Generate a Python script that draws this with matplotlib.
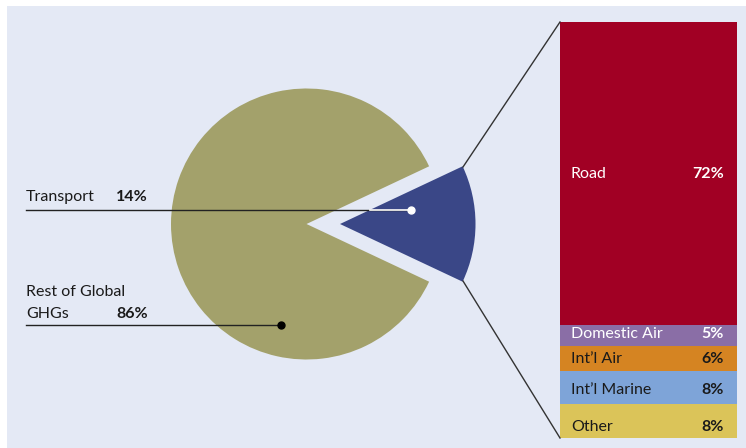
import matplotlib
matplotlib.use("Agg")
import matplotlib.pyplot as plt
from matplotlib.patches import Rectangle

# ---- data ----
pie_labels = ["Transport", "Rest of Global GHGs"]
pie_values = [14, 86]
pie_colors = ["#3a4787", "#a3a16b"]

bar_labels = ["Road", "Domestic Air", "Int\u2019l Air", "Int\u2019l Marine", "Other"]
bar_values = [72, 5, 6, 8, 8]
bar_colors = ["#a10024", "#8a6ea6", "#d58422", "#7ea4d8", "#dbc459"]
bar_text_colors = ["white", "white", "#1a1a1a", "#1a1a1a", "#1a1a1a"]

plt.rcParams['font.family'] = ['Lato', 'DejaVu Sans']

W, H = 746, 448
fig = plt.figure(figsize=(W / 100, H / 100), dpi=100)
ax = fig.add_axes([0, 0, 1, 1])

# background panel
ax.add_patch(Rectangle((7, 6), W - 7, H - 6, facecolor="#e4e9f5", edgecolor="none", zorder=0))

# ---- pie ----
R = 135.5
cx, cy = 306.5, 224
half = pie_values[0] / sum(pie_values) * 360 / 2
wedges, _ = ax.pie(pie_values, colors=pie_colors, startangle=-half, radius=R,
                   center=(cx, cy), explode=[340 - cx, 0.0],
                   wedgeprops=dict(linewidth=0), frame=True)
for w in wedges:
    w.set_zorder(2)

# ---- stacked bar ----
bx0, bx1 = 560, 737
by_top, by_bot = 22, 438
scale = (by_bot - by_top) / sum(bar_values)
text_y = [174, 334, 359, 390, 427]
bottom = by_top
for lab, v, col, tc, ty in zip(bar_labels, bar_values, bar_colors, bar_text_colors, text_y):
    ax.bar((bx0 + bx1) / 2, v * scale, width=bx1 - bx0, bottom=bottom, color=col,
           edgecolor="none", zorder=2)
    ax.text(571, ty, lab, color=tc, fontsize=11.5, va="center", ha="left", zorder=5)
    ax.text(724, ty, f"{v}%", color=tc, fontsize=11.5, fontweight="bold",
            va="center", ha="right", zorder=5)
    bottom += v * scale

# connector lines
ax.plot([463, bx0], [167, by_top], color="#333333", lw=1, zorder=3)
ax.plot([463, bx0], [281, by_bot], color="#333333", lw=1, zorder=3)

# ---- left labels ----
ax.text(26, 197, "Transport", fontsize=11.5, color="#1a1a1a", va="center", ha="left")
ax.text(148, 197, f"{pie_values[0]}%", fontsize=11.5, fontweight="bold", color="#1a1a1a",
        va="center", ha="right")
ax.plot([26, 411], [210, 210], color="#222222", lw=1, zorder=4)
ax.plot([370, 411], [210, 210], color="white", lw=1.2, zorder=4)
ax.plot([411], [210], "o", color="white", ms=5, zorder=5)

ax.text(26, 292, "Rest of Global", fontsize=11.5, color="#1a1a1a", va="center", ha="left")
ax.text(26, 314, "GHGs", fontsize=11.5, color="#1a1a1a", va="center", ha="left")
ax.text(148, 314, f"{pie_values[1]}%", fontsize=11.5, fontweight="bold", color="#1a1a1a",
        va="center", ha="right")
ax.plot([26, 281], [325, 325], color="#222222", lw=1, zorder=4)
ax.plot([281], [325], "o", color="black", ms=5, zorder=5)

ax.set_xlim(0, W)
ax.set_ylim(H, 0)
ax.set_aspect("auto")
ax.axis("off")

fig.savefig("out.png", dpi=100, facecolor="white")
